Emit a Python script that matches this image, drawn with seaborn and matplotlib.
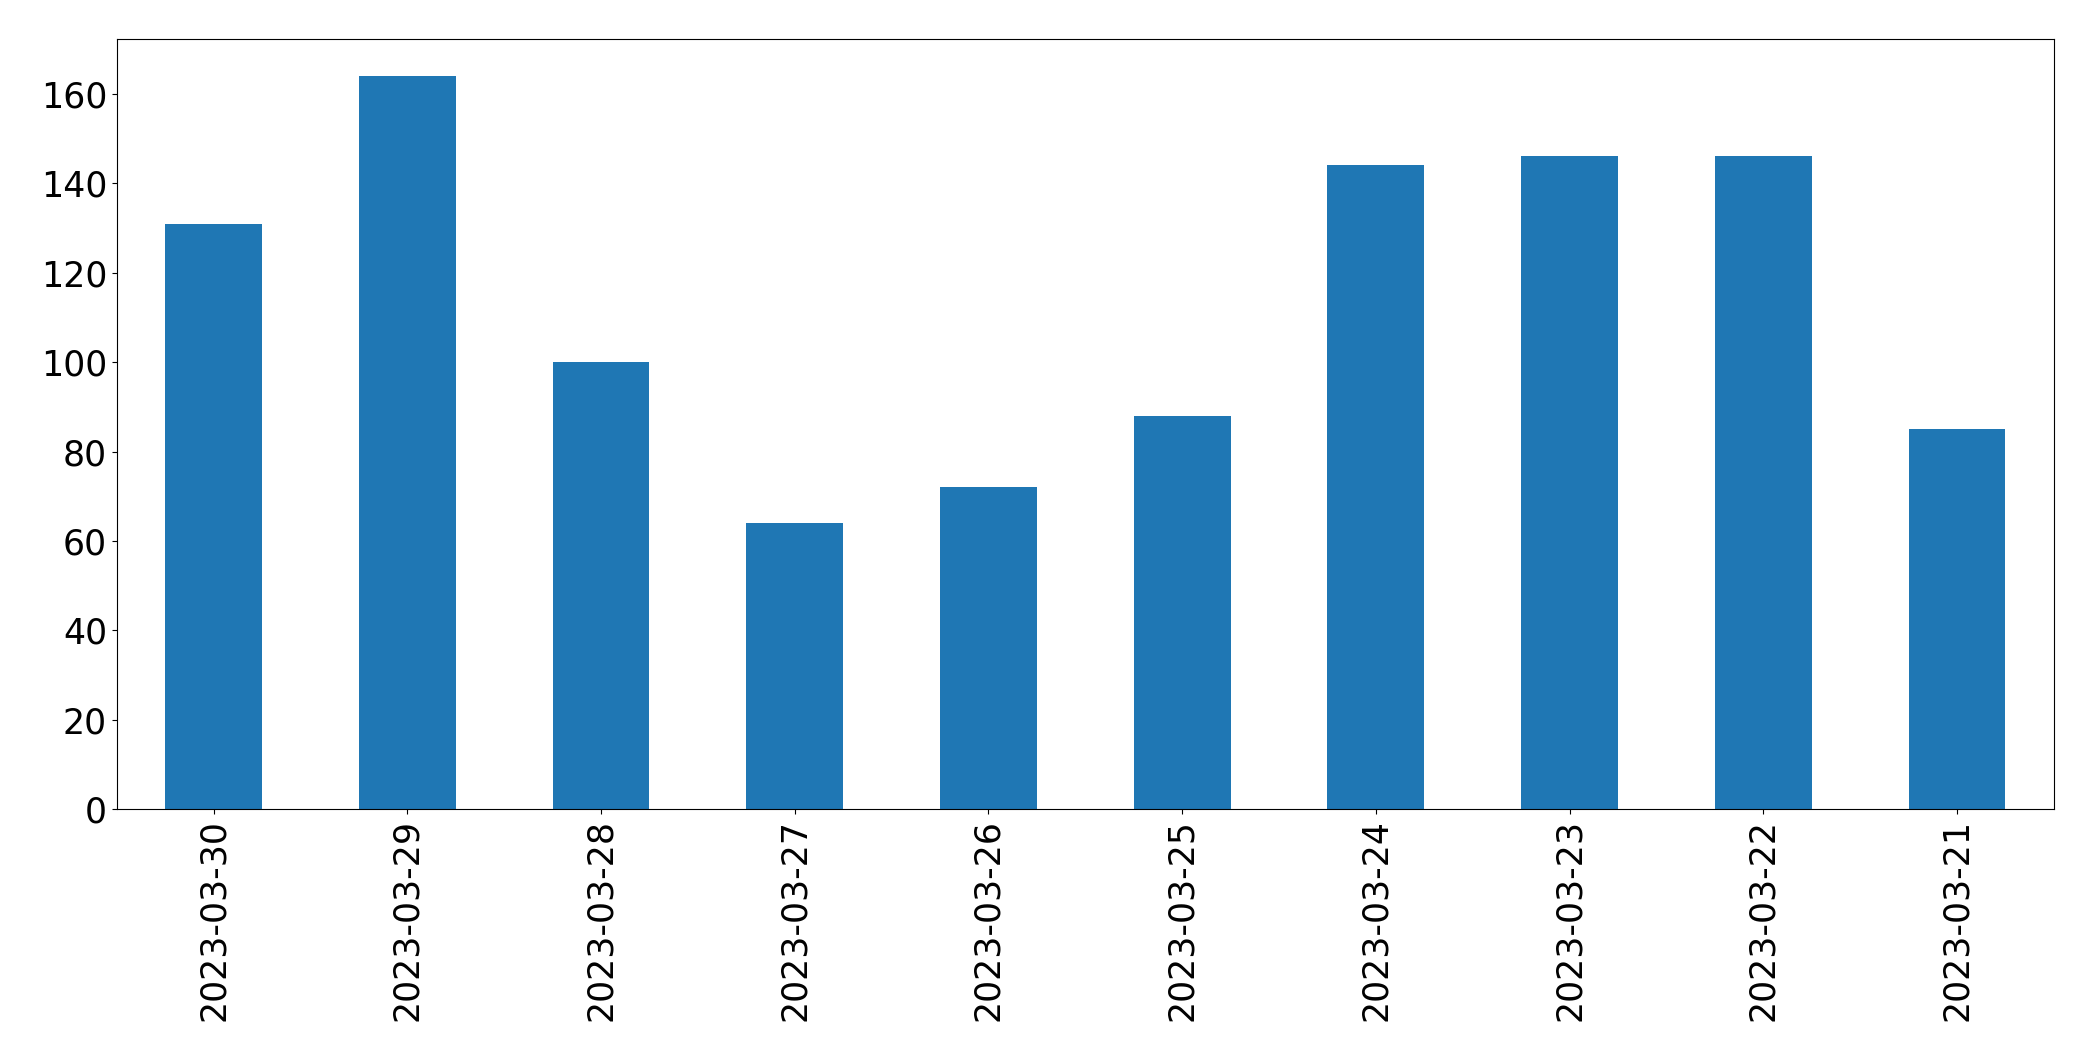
import matplotlib
matplotlib.use("Agg")
import matplotlib.pyplot as plt
import seaborn as sns
import pandas as pd

dates = ["2023-03-30", "2023-03-29", "2023-03-28", "2023-03-27", "2023-03-26",
         "2023-03-25", "2023-03-24", "2023-03-23", "2023-03-22", "2023-03-21"]
counts = [131, 164, 100, 64, 72, 88, 144, 146, 146, 85]

df = pd.DataFrame({"date": dates, "count": counts})

fig, ax = plt.subplots(figsize=(20.93, 10.61), dpi=100)
sns.barplot(data=df, x="date", y="count", order=dates, color="#1f77b4",
            saturation=1, width=0.5, ax=ax)
ax.set_xlim(-0.5, len(dates) - 0.5)
ax.set_ylim(0, max(counts) * 1.05)
ax.set_xlabel("")
ax.set_ylabel("")
ax.tick_params(axis="both", labelsize=25)
plt.setp(ax.get_xticklabels(), rotation=90)
fig.subplots_adjust(left=0.0558, right=0.9813, top=0.963, bottom=0.2372)
fig.savefig("out.png", dpi=100)
